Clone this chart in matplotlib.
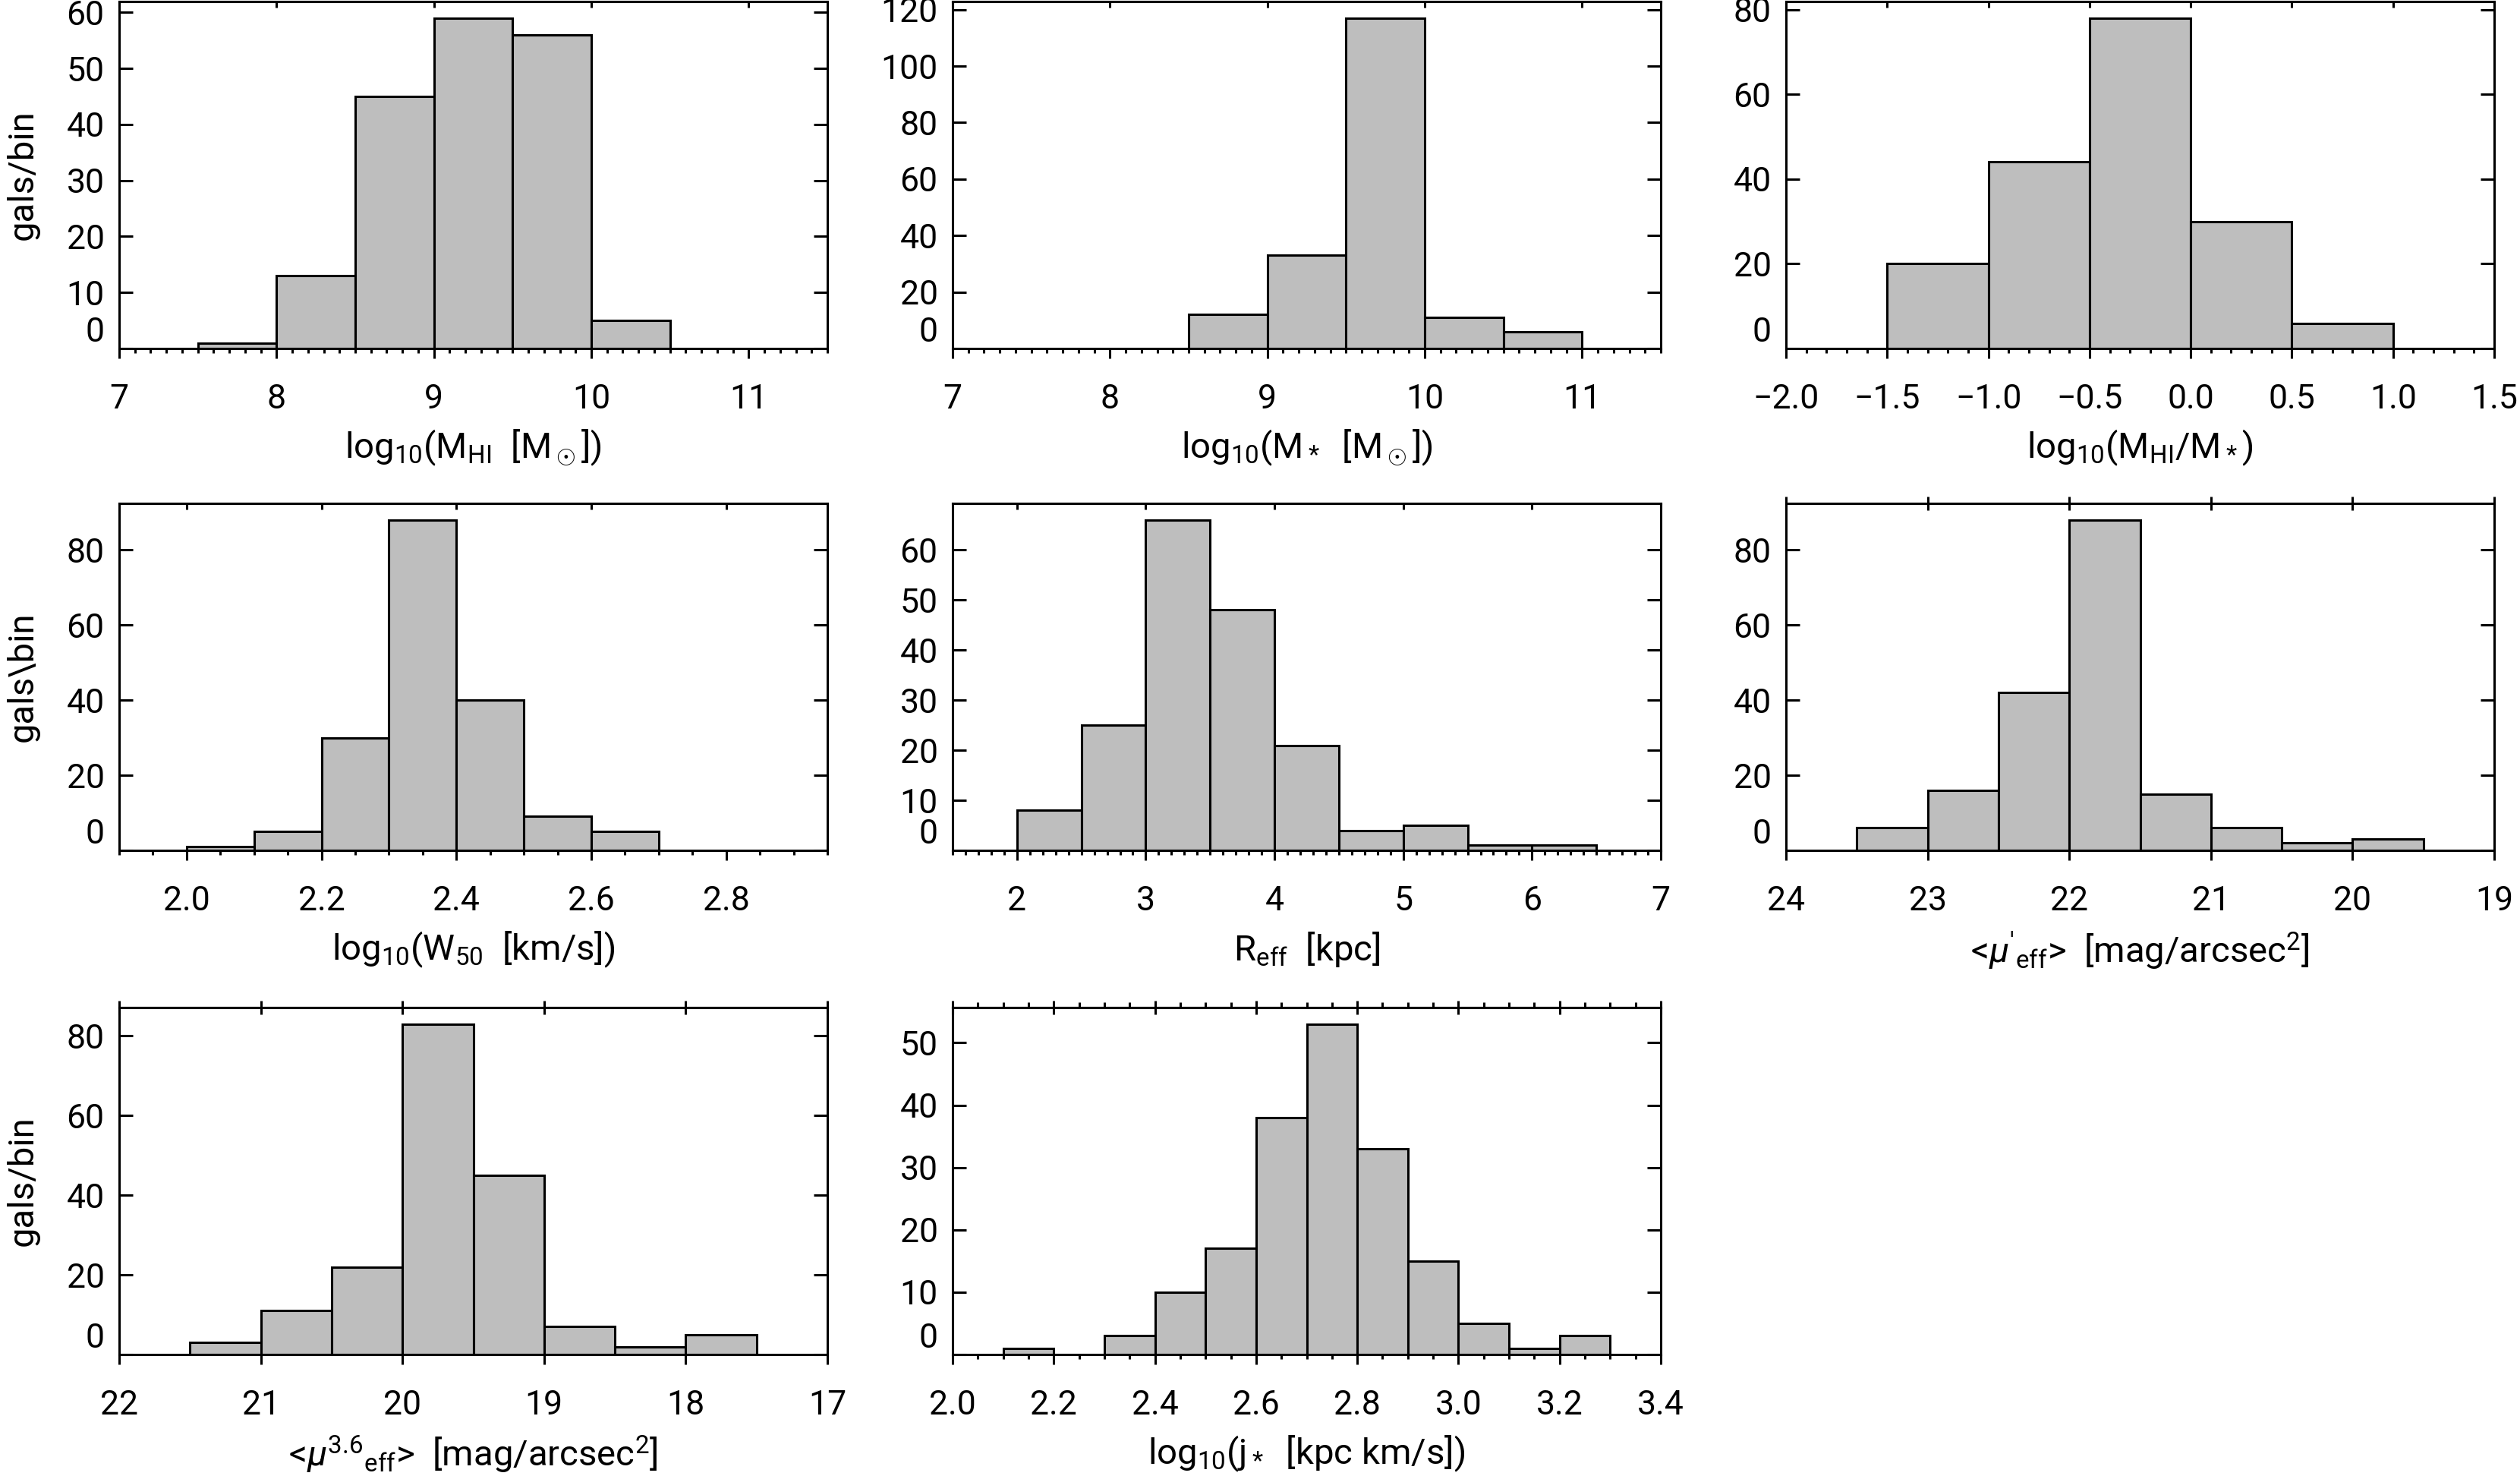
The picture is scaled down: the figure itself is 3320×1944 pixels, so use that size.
import numpy as np
import matplotlib
matplotlib.use('Agg')
import matplotlib.pyplot as plt
from matplotlib.ticker import MultipleLocator, FuncFormatter, NullFormatter
from matplotlib.transforms import offset_copy

plt.rcParams['font.family'] = ['Roboto', 'DejaVu Sans']
plt.rcParams['mathtext.fontset'] = 'custom'
plt.rcParams['mathtext.rm'] = 'Roboto'
plt.rcParams['mathtext.it'] = 'Roboto:italic'
plt.rcParams['mathtext.bf'] = 'Roboto:bold'

# histogram data: left bin edges and counts per bin
mhi_lo = [7.5, 8.0, 8.5, 9.0, 9.5, 10.0]
mhi_n = [1, 13, 45, 59, 56, 5]

mstar_lo = [8.5, 9.0, 9.5, 10.0, 10.5]
mstar_n = [12, 33, 117, 11, 6]

frac_lo = [-1.5, -1.0, -0.5, 0.0, 0.5]
frac_n = [20, 44, 78, 30, 6]

w50_lo = [2.0, 2.1, 2.2, 2.3, 2.4, 2.5, 2.6]
w50_n = [1, 5, 30, 88, 40, 9, 5]

reff_lo = [2.0, 2.5, 3.0, 3.5, 4.0, 4.5, 5.0, 5.5, 6.0]
reff_n = [8, 25, 66, 48, 21, 4, 5, 1, 1]

mui_lo = [23.0, 22.5, 22.0, 21.5, 21.0, 20.5, 20.0, 19.5]
mui_n = [6, 16, 42, 88, 15, 6, 2, 3]

mu36_lo = [21.0, 20.5, 20.0, 19.5, 19.0, 18.5, 18.0, 17.5]
mu36_n = [3, 11, 22, 83, 45, 7, 2, 5]

jstar_lo = [2.1, 2.2, 2.3, 2.4, 2.5, 2.6, 2.7, 2.8, 2.9, 3.0, 3.1, 3.2]
jstar_n = [1, 0, 3, 10, 17, 38, 53, 33, 15, 5, 1, 3]

# (lo, counts, bin width, xlim, x major, x minor, y major, xlabel, ylabel, decimals, top style)
panels = [
    (mhi_lo, mhi_n, 0.5, (7, 11.5), 1, 0.1, 10,
     r'log$_{10}$(M$_{\rm HI}$  [M$_\odot$])', 'gals/bin', 0, 'in'),
    (mstar_lo, mstar_n, 0.5, (7, 11.5), 1, 0.1, 20,
     r'log$_{10}$(M$_*$  [M$_\odot$])', None, 0, 'in'),
    (frac_lo, frac_n, 0.5, (-2.0, 1.5), 0.5, 0.1, 20,
     r'log$_{10}$(M$_{\rm HI}$/M$_*$)', None, 1, 'in'),
    (w50_lo, w50_n, 0.1, (1.9, 2.95), 0.2, 0.05, 20,
     r'log$_{10}$(W$_{50}$  [km/s])', 'gals\\bin', 1, 'in'),
    (reff_lo, reff_n, 0.5, (1.5, 7), 1, 0.1, 10,
     r'R$_{\rm eff}$  [kpc]', None, 0, 'in'),
    (mui_lo, mui_n, 0.5, (24, 19), 1, None, 20,
     r"<$\mu'_{\rm eff}$>  [mag/arcsec$^2$]", None, 0, 'inout'),
    (mu36_lo, mu36_n, 0.5, (22, 17), 1, None, 20,
     r'<$\mu^{3.6}{}_{\rm eff}$>  [mag/arcsec$^2$]', 'gals/bin', 0, 'inout'),
    (jstar_lo, jstar_n, 0.1, (2.0, 3.4), 0.2, 0.05, 10,
     r'log$_{10}$(j$_*$  [kpc km/s])', None, 1, 'inout'),
]

W, H = 3320, 1944
fig = plt.figure(figsize=(W / 200, H / 200), dpi=200)

col_left = [157, 1255, 2353]
row_top = [2, 663, 1327]
ax_w, ax_h = 933, 457

lw = 1.1
for i, (lo, n, bw, xlim, xmaj, xmin, ymaj, xlab, ylab, dec, top) in enumerate(panels):
    r, c = divmod(i, 3)
    ax = fig.add_axes([col_left[c] / W, 1 - (row_top[r] + ax_h) / H, ax_w / W, ax_h / H])

    ax.bar(lo, n, width=bw, align='edge', color='#bebebe', edgecolor='black', linewidth=lw, zorder=2)

    ax.set_xlim(*xlim)
    ax.set_ylim(0, 1.05 * max(n))
    for s in ax.spines.values():
        s.set_linewidth(lw)
        s.set_zorder(3)

    # x axis (bottom)
    ax.xaxis.set_major_locator(MultipleLocator(xmaj))
    if xmin:
        ax.xaxis.set_minor_locator(MultipleLocator(xmin))
    fmt = '{:.%df}' % dec
    ax.xaxis.set_major_formatter(FuncFormatter(lambda v, p, f=fmt: f.format(v).replace('-', '\u2212')))
    ax.tick_params(axis='x', which='major', direction='out', length=4.5, width=lw,
                   pad=12, labelsize=16, top=False)
    ax.tick_params(axis='x', which='minor', direction='out', length=2.2, width=lw, top=False)

    # y axis, zero label sits above the axis line
    ax.yaxis.set_major_locator(MultipleLocator(ymaj))
    ax.yaxis.set_major_formatter(FuncFormatter(lambda v, p: '' if v == 0 else '%d' % v))
    ax.tick_params(axis='y', direction='in', length=6.5, width=lw, left=True, right=True,
                   pad=7, labelsize=16)
    ax.text(0, 0, '0', fontsize=16, ha='right', va='bottom',
            transform=offset_copy(ax.get_yaxis_transform(), fig, x=-7, y=0, units='points'))

    # top axis
    sec = ax.secondary_xaxis('top')
    sec.spines['top'].set_linewidth(lw)
    sec.xaxis.set_major_locator(MultipleLocator(xmaj))
    sec.xaxis.set_major_formatter(NullFormatter())
    if top == 'in':
        sec.tick_params(which='major', direction='in', length=3, width=lw)
    else:
        sec.tick_params(which='major', direction='inout', length=6.5, width=lw)
    if i == 7:
        sec.xaxis.set_minor_locator(MultipleLocator(xmin))
        sec.tick_params(which='minor', direction='out', length=2.5, width=lw)

    ax.set_xlabel(xlab, fontsize=17, labelpad=6)
    if ylab:
        ax.text(-0.136, 0.5, ylab, fontsize=17, rotation=90, ha='center', va='center',
                transform=ax.transAxes)

fig.savefig('out.png', dpi=200)
